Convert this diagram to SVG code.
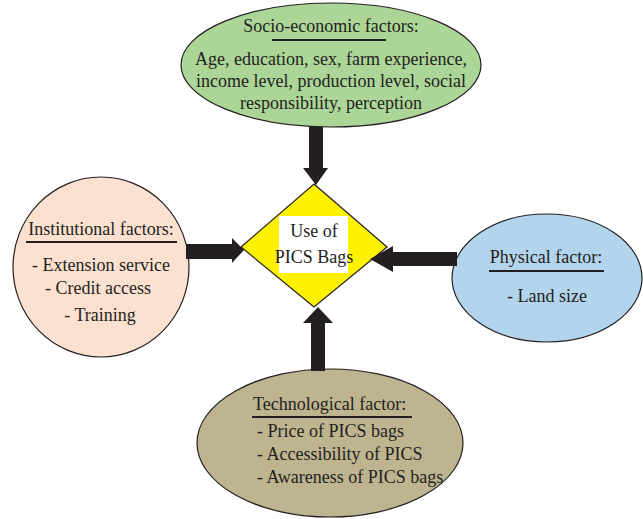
<svg xmlns="http://www.w3.org/2000/svg" width="643" height="519" viewBox="0 0 643 519">
<style>
.node{stroke:#231f20;stroke-width:1.2}
.t{font-family:"Liberation Serif","Times New Roman",serif;font-size:18px;fill:#231f20}
.c{text-anchor:middle}
.ul{stroke:#231f20;stroke-width:2}
.arrow{fill:#231f20;stroke:none}
</style>
<rect width="643" height="519" fill="#ffffff"/>
<g id="socio">
<ellipse class="node" cx="331" cy="65" rx="150" ry="62" fill="#acd598"/>
<text class="t c" x="331" y="32">Socio-economic factors:</text>
<line class="ul" x1="272" y1="40" x2="386" y2="40"/>
<text class="t c" x="331" y="65">Age, education, sex, farm experience,</text>
<text class="t c" x="331" y="87">income level, production level, social</text>
<text class="t c" x="331" y="109">responsibility, perception</text>
</g>
<g id="institutional">
<ellipse class="node" cx="101" cy="267" rx="88" ry="90" fill="#fde1d0"/>
<text class="t c" x="101" y="235">Institutional factors:</text>
<line class="ul" x1="26" y1="242" x2="177" y2="242"/>
<text class="t c" x="101" y="271">- Extension service</text>
<text class="t c" x="98" y="294">- Credit access</text>
<text class="t c" x="100" y="321">- Training</text>
</g>
<g id="physical">
<ellipse class="node" cx="547" cy="278" rx="95" ry="64" fill="#b2d4ec"/>
<text class="t c" x="546" y="263">Physical factor:</text>
<line class="ul" x1="489" y1="271" x2="604" y2="271"/>
<text class="t c" x="547" y="302">- Land size</text>
</g>
<g id="technological">
<ellipse class="node" cx="330" cy="443" rx="133" ry="74" fill="#beb48f"/>
<text class="t" x="253" y="410">Technological factor:</text>
<line class="ul" x1="252" y1="417" x2="412" y2="417"/>
<text class="t" x="257" y="437">- Price of PICS bags</text>
<text class="t" x="257" y="460">- Accessibility of PICS</text>
<text class="t" x="257" y="483">- Awareness of PICS bags</text>
</g>
<g id="center">
<polygon class="node" points="314,184 387,247 314,307 241,247" fill="#fff200"/>
<rect x="279" y="216" width="69" height="57" fill="#ffffff"/>
<text class="t c" x="314" y="237">Use of</text>
<text class="t c" x="314" y="263">PICS Bags</text>
</g>
<g id="connectors">
<polygon class="arrow" points="309,127 323,127 323,168 328,168 316,185 303,168 309,168"/>
<polygon class="arrow" points="311,371 325,371 325,323 333,323 318,307 303,323 311,323"/>
<polygon class="arrow" points="186,244 232,244 232,238 244,250 232,263 232,259 186,259"/>
<polygon class="arrow" points="457,252 393,252 393,246 370,259 393,272 393,266 457,266"/>
</g>
</svg>
